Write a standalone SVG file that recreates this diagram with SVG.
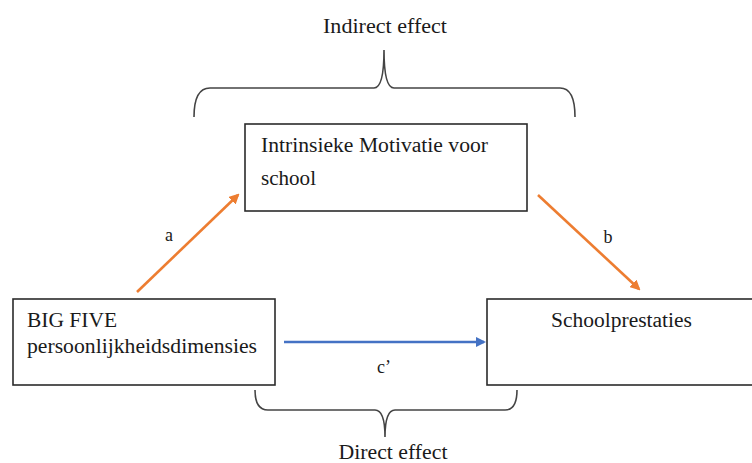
<svg xmlns="http://www.w3.org/2000/svg" width="752" height="463" viewBox="0 0 752 463">
<defs>
<style>
.box{fill:#fff;stroke:#2b2b2b;stroke-width:1.6}
.t{font-family:"Liberation Serif","Times New Roman",serif;font-size:20px;fill:#1a1a1a}
.lbl{font-family:"Liberation Serif","Times New Roman",serif;font-size:18px;fill:#1a1a1a}
.brace{fill:none;stroke:#444;stroke-width:1.6}
.or{stroke:#ED7D31;stroke-width:2.6;fill:none}
.bl{stroke:#4472C4;stroke-width:2.6;fill:none}
</style>
<marker id="ao" viewBox="0 0 10 10" refX="8" refY="5" markerWidth="4" markerHeight="4" orient="auto" markerUnits="strokeWidth"><path d="M0,0 L10,5 L0,10 z" fill="#ED7D31"/></marker>
<marker id="ab" viewBox="0 0 10 10" refX="8" refY="5" markerWidth="4" markerHeight="4" orient="auto" markerUnits="strokeWidth"><path d="M0,0 L10,5 L0,10 z" fill="#4472C4"/></marker>
</defs>
<rect width="752" height="463" fill="#fff"/>
<g id="indirect-brace">
<path class="brace" d="M194,117 Q194,88 210,88 L374,88 Q384,88 384,50 Q384,88 394,88 L560,88 Q575,88 575,117"/>
<text class="t" x="385" y="33" text-anchor="middle" textLength="124" lengthAdjust="spacingAndGlyphs">Indirect effect</text>
</g>
<g id="direct-brace">
<path class="brace" d="M255,390 Q255,410 268,410 L375,410 Q385,410 385,437 Q385,410 395,410 L505,410 Q517,410 517,390"/>
<text class="t" x="393" y="459" text-anchor="middle" textLength="109" lengthAdjust="spacingAndGlyphs">Direct effect</text>
</g>
<g id="connectors">
<line class="or" x1="137" y1="292" x2="238" y2="195" marker-end="url(#ao)"/>
<line class="or" x1="538" y1="195" x2="639" y2="289" marker-end="url(#ao)"/>
<line class="bl" x1="284" y1="342" x2="484" y2="342" marker-end="url(#ab)"/>
<text class="lbl" x="169" y="241" text-anchor="middle">a</text>
<text class="lbl" x="608" y="243" text-anchor="middle">b</text>
<text class="lbl" x="384" y="373" text-anchor="middle">c’</text>
</g>
<g id="mediator">
<rect class="box" x="245" y="124" width="282" height="87"/>
<text class="t" x="261" y="152" textLength="227" lengthAdjust="spacingAndGlyphs">Intrinsieke Motivatie voor</text>
<text class="t" x="261" y="185" textLength="55" lengthAdjust="spacingAndGlyphs">school</text>
</g>
<g id="predictor">
<rect class="box" x="13" y="299" width="262" height="86"/>
<text class="t" x="27" y="327" textLength="90" lengthAdjust="spacingAndGlyphs">BIG FIVE</text>
<text class="t" x="27" y="353" textLength="230" lengthAdjust="spacingAndGlyphs">persoonlijkheidsdimensies</text>
</g>
<g id="outcome">
<rect class="box" x="487" y="299" width="280" height="86"/>
<text class="t" x="551" y="327" textLength="141" lengthAdjust="spacingAndGlyphs">Schoolprestaties</text>
</g>
</svg>
